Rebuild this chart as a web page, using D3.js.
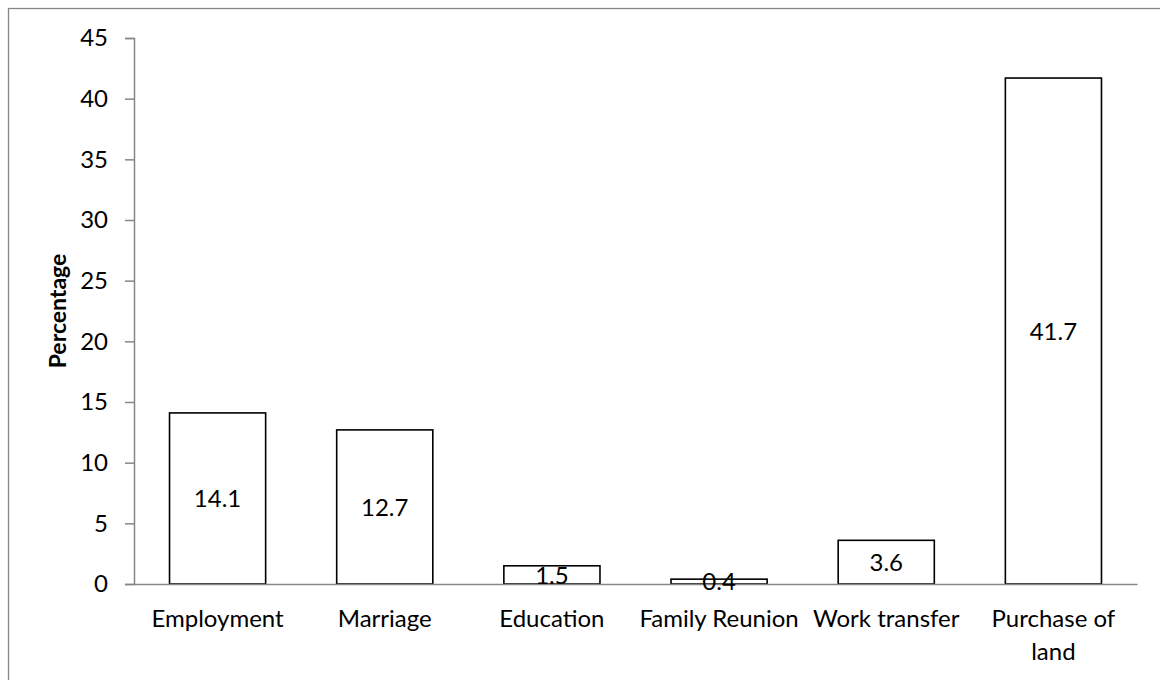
<!DOCTYPE html>
<html>
<head>
<meta charset="utf-8">
<script src="https://cdn.jsdelivr.net/npm/d3@7"></script>
<style>
  html, body { margin: 0; padding: 0; background: #fff; }
  svg { display: block; }
  text { font-family: Lato, "Liberation Sans", sans-serif; fill: #000; }
</style>
</head>
<body>
<svg id="chart" width="1160" height="680"></svg>
<script>
const categories = ["Employment", "Marriage", "Education", "Family Reunion", "Work transfer", "Purchase of land"];
const values = [14.1, 12.7, 1.5, 0.4, 3.6, 41.7];
const yTicks = [0, 5, 10, 15, 20, 25, 30, 35, 40, 45];
const yTitle = "Percentage";

const svg = d3.select("#chart");
const axisColor = "#868686";
const fontSize = 24;

svg.append("rect")
  .attr("x", 8.5).attr("y", 8.5)
  .attr("width", 1170).attr("height", 690)
  .attr("fill", "#fff").attr("stroke", axisColor).attr("stroke-width", 1.3);

const plot = { left: 134, right: 1137, top: 38, bottom: 584 };

const x = d3.scaleBand()
  .domain(categories)
  .range([plot.left, plot.right])
  .paddingInner(0.425)
  .paddingOuter(0.2125);

const y = d3.scaleLinear().domain([0, 45]).range([plot.bottom, plot.top]);

// Bars
svg.append("g").selectAll("rect")
  .data(categories)
  .join("rect")
  .attr("x", d => x(d))
  .attr("y", (d, i) => y(values[i]))
  .attr("width", x.bandwidth())
  .attr("height", (d, i) => y(0) - y(values[i]))
  .attr("fill", "#fff")
  .attr("stroke", "#000")
  .attr("stroke-width", 1.6);

// Y axis
const yAxis = svg.append("g")
  .attr("transform", `translate(${plot.left},0)`)
  .call(d3.axisLeft(y).tickValues(yTicks).tickSize(9).tickPadding(17).tickFormat(d3.format("d")));
yAxis.select(".domain").attr("stroke", axisColor).attr("stroke-width", 1.5);
yAxis.selectAll(".tick line").attr("stroke", axisColor).attr("stroke-width", 1.5);
yAxis.selectAll(".tick text").attr("font-size", fontSize).attr("font-family", "Lato").attr("fill", "#000");

// X axis
const xAxis = svg.append("g")
  .attr("transform", `translate(0,${plot.bottom})`)
  .call(d3.axisBottom(x).tickSize(0).tickPadding(0).tickFormat(""));
xAxis.select(".domain").attr("stroke", axisColor).attr("stroke-width", 1.5);

// Category labels (with wrapping for "Purchase of land")
const wrapLines = { "Purchase of land": ["Purchase of", "land"] };
categories.forEach(c => {
  const lines = wrapLines[c] || [c];
  const t = svg.append("text")
    .attr("x", x(c) + x.bandwidth() / 2)
    .attr("y", plot.bottom + 43)
    .attr("text-anchor", "middle")
    .attr("font-size", fontSize);
  lines.forEach((l, j) => {
    t.append("tspan").attr("x", x(c) + x.bandwidth() / 2).attr("dy", j === 0 ? 0 : 33).text(l);
  });
});

// Value labels
svg.append("g").selectAll("text")
  .data(categories)
  .join("text")
  .attr("x", d => x(d) + x.bandwidth() / 2)
  .attr("y", (d, i) => (y(values[i]) + y(0)) / 2)
  .attr("dy", "0.36em")
  .attr("text-anchor", "middle")
  .attr("font-size", fontSize)
  .text((d, i) => values[i].toFixed(1));

// Y title
svg.append("text")
  .attr("transform", `translate(66,${(plot.top + plot.bottom) / 2}) rotate(-90)`)
  .attr("text-anchor", "middle")
  .attr("font-size", 23)
  .attr("font-weight", "bold")
  .text(yTitle);
</script>
</body>
</html>
